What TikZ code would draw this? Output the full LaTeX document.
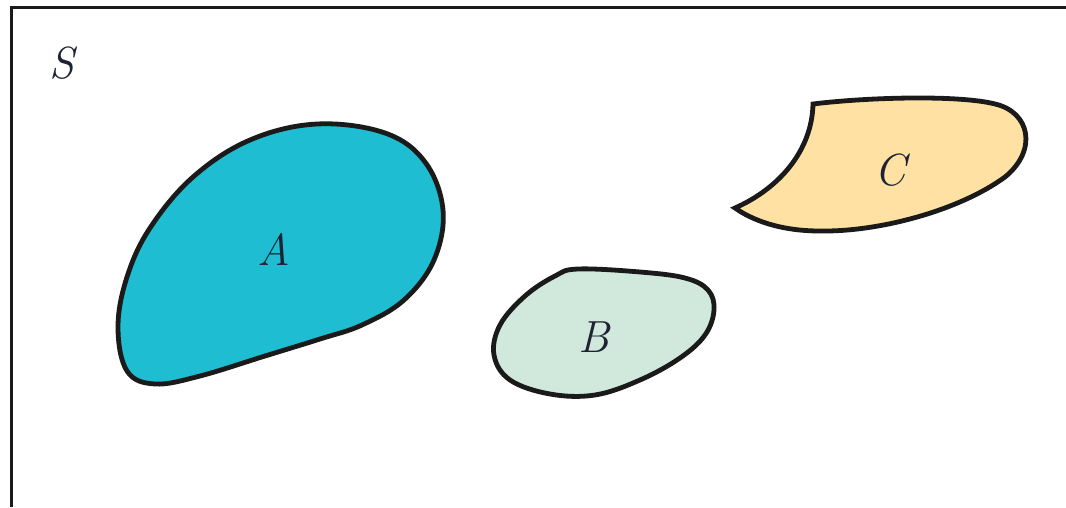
\documentclass[tikz,border=0pt]{standalone}
\usepackage{tikz}
\definecolor{setA}{HTML}{1EBDD1}
\definecolor{setB}{HTML}{D1E8DC}
\definecolor{setC}{HTML}{FFE2A3}
\definecolor{inkline}{HTML}{1A1A1A}
\definecolor{labelink}{HTML}{1E2233}
\begin{document}
\begin{tikzpicture}[x=1pt,y=-1pt,
  region/.style={draw=inkline,line width=4.8pt,line join=round},
  setlabel/.style={text=labelink,font=\fontsize{45}{45}\selectfont\itshape,inner sep=0pt}]
\useasboundingbox (0,0) rectangle (1066,507);
% universe frame (only the top and left edges fall inside the picture)
\draw[line width=3pt,draw=inkline] (11.5,507) -- (11.5,7.5) -- (1066,7.5);
\node[setlabel] (S) at (62,63) {S};
% set A
\draw[region,fill=setA] plot[smooth cycle,tension=0.62] coordinates {
  (317,124) (385,133) (425,162) (443,210) (434,260) (404,300) (362,325)
  (320,339) (265,356) (200,376) (155,384) (127,371) (118,327) (127,277)
  (150,228) (193,177) (250,140)};
\node[setlabel] (A) at (274,249) {A};
% set B
\draw[region,fill=setB] plot[smooth cycle,tension=0.62] coordinates {
  (578,269) (640,272) (685,278) (708,290) (714,310) (705,335) (680,358)
  (640,380) (595,395) (550,394) (510,380) (494,355) (500,325) (525,296)
  (555,276)};
\node[setlabel] (B) at (594,337) {B};
% set C, with two pointed corners
\draw[region,fill=setC,line join=miter] (813,104)
  .. controls (870,97) and (960,95) .. (995,104)
  .. controls (1030,112) and (1038,150) .. (1005,177)
  .. controls (960,210) and (880,232) .. (820,231)
  .. controls (780,231) and (752,220) .. (735,208)
  .. controls (780,188) and (812,150) .. cycle;
\node[setlabel] (C) at (890,170) {C};
\end{tikzpicture}
\end{document}
